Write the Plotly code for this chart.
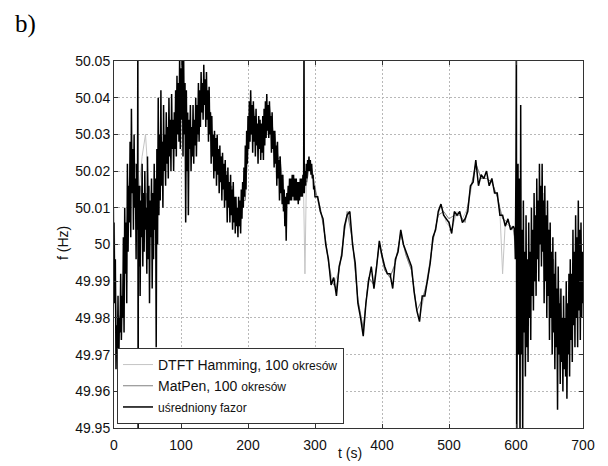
import plotly.graph_objects as go

# ---------------- axis ticks ----------------
x_tickvals = [0, 100, 200, 300, 400, 500, 600, 700]
y_tickvals = [49.95, 49.96, 49.97, 49.98, 49.99, 50.00, 50.01, 50.02, 50.03, 50.04, 50.05]
y_ticktext = ["49.95", "49.96", "49.97", "49.98", "49.99", "50", "50.01", "50.02", "50.03", "50.04", "50.05"]

# ---------------- series names ----------------
name_dtft = "DTFT Hamming, 100 <span style='font-size:12px'>okresów</span>"
name_matpen = "MatPen, 100 <span style='font-size:12px'>okresów</span>"
name_fazor = "<span style='font-size:12px'>uśredniony fazor</span>"

# ---------------- uśredniony fazor (black) ----------------
fazor_t_a = [0, 1, 2, 3, 4, 5, 6, 7, 8, 9, 10, 11, 12, 13, 14, 15, 16, 17, 18, 19,
             20, 21, 22, 23, 24, 25, 26, 27, 28, 29, 30, 31, 32, 33, 34, 35, 35.6, 36, 36.4, 37,
             38, 39, 40, 41, 42, 43, 44, 45, 46, 47, 48, 49, 50, 51, 52, 53, 54, 55, 56, 57,
             58, 59, 60, 61, 62, 63, 64, 65, 66, 67, 68, 69, 70, 71, 72, 73, 74, 75, 76, 77,
             78, 79, 80, 81, 82, 83, 84, 85, 86, 87, 88, 89, 90, 91, 92, 93, 94, 95, 96, 97,
             98, 99, 100, 101, 102, 103, 104, 105, 106, 107, 108, 109, 110, 111, 112, 113, 114, 115, 116, 117,
             118, 119, 120, 121, 122, 123, 124, 125, 126, 127, 128, 129, 130, 131, 132, 133, 134, 135, 136, 137,
             138, 139, 140, 141, 142, 143, 144, 145, 146, 147, 148, 149, 150]
fazor_f_a = [50.006, 49.984, 49.996, 49.966, 49.978, 49.970, 49.986, 49.964, 49.980, 49.976,
             49.992, 49.974, 49.986, 49.980, 50.002, 49.976, 50.010, 49.992, 50.006, 49.984,
             50.022, 49.998, 50.016, 50.006, 50.028, 50.002, 50.037, 50.014, 50.026, 50.004,
             50.030, 50.010, 50.018, 49.996, 50.022, 50.004, 50.060, 49.940, 50.014, 49.994,
             50.016, 49.986, 50.012, 50.002, 50.022, 49.994, 50.014, 49.998, 50.020, 50.004,
             50.010, 49.992, 50.024, 49.996, 50.016, 49.984, 50.012, 50.002, 50.018, 49.988,
             50.014, 49.996, 50.022, 50.004, 50.018, 49.972, 50.026, 50.000, 50.040, 50.008,
             50.030, 50.012, 50.042, 50.016, 50.028, 50.010, 50.038, 50.020, 50.030, 50.016,
             50.036, 50.022, 50.032, 50.018, 50.040, 50.024, 50.034, 50.020, 50.041, 50.026,
             50.034, 50.020, 50.036, 50.026, 50.042, 50.024, 50.046, 50.030, 50.044, 50.028,
             50.052, 50.026, 50.048, 50.034, 50.054, 50.024, 50.050, 50.030, 50.044, 50.006,
             50.042, 50.020, 50.036, 50.008, 50.034, 50.026, 50.038, 50.020, 50.032, 50.024,
             50.038, 50.022, 50.034, 50.027, 50.040, 50.024, 50.038, 50.030, 50.044, 50.028,
             50.042, 50.032, 50.047, 50.036, 50.044, 50.034, 50.049, 50.038, 50.045, 50.032,
             50.047, 50.034, 50.042, 50.028, 50.043, 50.030, 50.036, 50.022, 50.035, 50.024,
             50.030, 50.018, 50.031]

fazor_t_b = [151, 152, 153, 154, 155, 156, 157, 158, 159, 160, 161, 162, 163, 164, 165, 166, 167, 168, 169, 170,
             171, 172, 173, 174, 175, 176, 177, 178, 179, 180, 181, 182, 183, 184, 185, 186, 187, 188, 189, 190,
             191, 192, 193, 194, 195, 196, 197, 198, 199, 200, 201, 202, 203, 204, 205, 206, 207, 208, 209, 210,
             211, 212, 213, 214, 215, 216, 217, 218, 219, 220, 221, 222, 223, 224, 225, 226, 227, 228, 229, 230,
             231, 232, 233, 234, 235, 236, 237, 238, 239, 240, 241, 242, 243, 244, 245, 246, 247, 248, 249, 250,
             251, 252, 253, 254, 255, 256, 257, 258, 259, 260, 261, 262, 263, 264, 265, 266, 267, 268, 269, 270,
             271, 272, 273, 274, 275, 276, 277, 278, 279, 280, 281, 282, 283, 283.6, 284, 285, 286, 287, 288, 289,
             290, 291, 292, 293, 294, 295, 296, 297, 298, 299, 300]
fazor_f_b = [50.020, 50.029, 50.016, 50.030, 50.019, 50.026, 50.014, 50.027, 50.017, 50.024,
             50.012, 50.025, 50.015, 50.022, 50.010, 50.023, 50.012, 50.019, 50.006, 50.021,
             50.010, 50.017, 50.006, 50.019, 50.008, 50.015, 50.004, 50.017, 50.006, 50.013,
             50.003, 50.013, 50.005, 50.010, 50.002, 50.013, 50.005, 50.012, 50.003, 50.015,
             50.007, 50.017, 50.010, 50.021, 50.013, 50.027, 50.015, 50.031, 50.022, 50.035,
             50.026, 50.039, 50.028, 50.042, 50.030, 50.038, 50.025, 50.039, 50.028, 50.035,
             50.024, 50.037, 50.027, 50.033, 50.022, 50.035, 50.026, 50.034, 50.023, 50.033,
             50.025, 50.035, 50.023, 50.037, 50.027, 50.039, 50.029, 50.041, 50.031, 50.038,
             50.029, 50.039, 50.030, 50.035, 50.025, 50.036, 50.026, 50.031, 50.021, 50.031,
             50.022, 50.027, 50.016, 50.028, 50.018, 50.023, 50.012, 50.024, 50.014, 50.019,
             50.011, 50.019, 50.009, 50.015, 50.005, 50.013, 50.001, 50.014, 50.011, 50.016,
             50.011, 50.018, 50.012, 50.018, 50.012, 50.019, 50.013, 50.019, 50.012, 50.018,
             50.012, 50.018, 50.012, 50.017, 50.011, 50.017, 50.012, 50.018, 50.013, 50.018,
             50.013, 50.019, 50.014, 50.060, 50.014, 50.020, 50.016, 50.022, 50.018, 50.023,
             50.020, 50.024, 50.020, 50.023, 50.019, 50.022, 50.018, 50.019, 50.015, 50.016,
             50.013]

fazor_t_c = [304, 308, 312, 316, 320, 324, 328, 332, 336, 340, 344, 348, 352, 356, 360, 364, 368, 372, 376, 380,
             384, 388, 392, 396, 400, 404, 408, 412, 416, 420, 424, 428, 432, 436, 440, 444, 448, 452, 456, 460,
             464, 468, 472, 476, 480, 484, 488, 492, 496, 500, 504, 508, 512, 516, 520, 524, 528, 532, 536, 540,
             544, 548, 552, 556, 560, 564, 568, 572, 576, 580, 584, 588, 592, 596]
fazor_f_c = [50.013, 50.009, 50.007, 50.000, 49.996, 49.989, 49.991, 49.986, 49.994, 49.997,
             50.005, 50.008, 50.009, 50.000, 49.995, 49.984, 49.980, 49.975, 49.984, 49.990,
             49.994, 49.988, 49.994, 50.001, 49.997, 49.994, 49.992, 49.992, 49.988, 49.996,
             49.998, 50.004, 50.000, 49.998, 49.996, 49.994, 49.987, 49.982, 49.979, 49.986,
             49.986, 49.991, 49.995, 50.002, 50.004, 50.009, 50.011, 50.008, 50.007, 50.006,
             50.003, 50.009, 50.008, 50.009, 50.006, 50.007, 50.009, 50.016, 50.017, 50.023,
             50.016, 50.019, 50.018, 50.020, 50.016, 50.018, 50.014, 50.014, 50.008, 50.008,
             50.005, 50.007, 50.004, 50.005]

fazor_t_d = [598, 599, 600, 600.6, 601, 602, 603, 604, 605, 606, 607, 608, 609, 610, 611, 612, 613, 614, 615, 616,
             617, 618, 619, 620, 621, 622, 623, 624, 625, 626, 627, 628, 629, 630, 631, 632, 633, 634, 635, 636,
             637, 638, 639, 640, 641, 642, 643, 644, 645, 646, 647, 648, 649, 650, 651, 652, 653, 654, 655, 656,
             657, 658, 659, 660, 661, 662, 663, 664, 665, 666, 667, 668, 669, 670, 671, 672, 673, 674, 675, 676,
             677, 678, 679, 680, 681, 682, 683, 684, 685, 686, 687, 688, 689, 690, 691, 692, 693, 694, 695, 696,
             697, 698, 699, 700]
fazor_f_d = [50.004, 49.996, 50.024, 50.060, 49.940, 49.975, 50.022, 49.970, 50.018, 49.945,
             50.038, 49.970, 50.004, 49.948, 50.012, 49.976, 49.998, 49.964, 50.008, 49.972,
             49.996, 49.968, 50.006, 49.980, 49.998, 49.974, 50.010, 49.986, 50.004, 49.982,
             50.014, 49.990, 50.008, 49.986, 50.018, 49.996, 50.012, 49.990, 50.022, 50.000,
             50.016, 49.994, 50.022, 49.998, 50.012, 49.984, 50.016, 49.990, 50.008, 49.980,
             50.012, 49.986, 50.004, 49.974, 50.006, 49.980, 49.998, 49.970, 50.002, 49.976,
             49.992, 49.966, 49.998, 49.972, 49.988, 49.955, 49.994, 49.970, 49.984, 49.962,
             49.988, 49.968, 49.980, 49.960, 49.986, 49.966, 49.980, 49.964, 49.990, 49.958,
             49.984, 49.970, 49.992, 49.964, 49.996, 49.974, 49.992, 49.968, 50.004, 49.978,
             49.998, 49.972, 50.008, 49.980, 50.002, 49.972, 50.012, 49.982, 50.004, 49.974,
             50.006, 49.980, 49.998, 49.984]

# ---------------- MatPen (grey) ----------------
matpen_t = [0, 4, 8, 12, 16, 20, 24, 28, 32, 36, 40, 44, 48, 52, 56, 60, 64, 68, 72, 76,
            80, 84, 88, 92, 96, 100, 104, 108, 112, 116, 120, 124, 128, 132, 136, 140, 144, 148, 152, 156,
            160, 164, 168, 172, 176, 180, 184, 188, 192, 196, 200, 204, 208, 212, 216, 220, 224, 228, 232, 236,
            240, 244, 248, 252, 256, 260, 264, 268, 272, 276, 280, 284, 288, 292, 296, 300,
            308, 316, 324, 332, 340, 348, 356, 364, 372, 380, 388, 396, 404, 412, 420, 428, 436, 444, 452, 460,
            468, 476, 484, 492, 500, 508, 516, 524, 532, 540, 548, 556, 564, 572, 580, 588, 596,
            600, 604, 608, 612, 616, 620, 624, 628, 632, 636, 640, 644, 648, 652, 656, 660, 664, 668, 672, 676,
            680, 684, 688, 692, 696, 700]
matpen_f = [49.998, 49.970, 49.980, 49.982, 50.002, 50.006, 50.022, 50.016, 50.022, 50.008,
            50.016, 50.006, 50.014, 50.006, 50.012, 50.004, 50.016, 50.016, 50.028, 50.022,
            50.032, 50.026, 50.032, 50.028, 50.040, 50.036, 50.044, 50.030, 50.032, 50.024,
            50.032, 50.028, 50.038, 50.036, 50.044, 50.036, 50.036, 50.024, 50.027, 50.020,
            50.024, 50.017, 50.020, 50.013, 50.016, 50.009, 50.010, 50.005, 50.012, 50.012,
            50.028, 50.031, 50.038, 50.030, 50.033, 50.028, 50.031, 50.030, 50.038, 50.031,
            50.030, 50.023, 50.024, 50.015, 50.010, 50.014, 50.015, 50.018, 50.014, 50.017,
            50.014, 50.018, 50.017, 50.023, 50.020, 50.015,
            50.010, 50.001, 49.990, 49.988, 49.998, 50.009, 50.001, 49.985, 49.977, 49.991,
            49.989, 50.000, 49.993, 49.991, 49.995, 50.003, 49.997, 49.993, 49.982, 49.985,
            49.990, 50.001, 50.008, 50.009, 50.007, 50.008, 50.008, 50.006, 50.015, 50.022,
            50.018, 50.018, 50.017, 50.013, 50.007, 50.006, 50.004,
            50.000, 49.984, 49.996, 49.978, 49.992, 49.984, 50.000, 49.994, 50.010, 50.004,
            50.014, 49.996, 50.004, 49.990, 49.996, 49.980, 49.988, 49.972, 49.980, 49.966,
            49.985, 49.978, 49.994, 49.982, 49.996, 49.984]

# ---------------- DTFT Hamming (light grey) ----------------
dtft_t = [0, 3, 6, 12, 18, 24, 30, 36, 42, 47, 52, 58, 64, 70, 76, 82, 88, 94, 100, 106,
          112, 118, 124, 130, 136, 142, 148, 154, 160, 166, 172, 178, 184, 190, 196, 202, 208, 214, 220, 226,
          232, 238, 244, 250, 256, 262, 268, 274, 280, 283, 285, 287, 292, 298, 304, 312, 320, 328, 336, 344,
          350, 356, 364, 372, 380, 388, 396, 404, 412, 420, 428, 436, 444, 452, 456, 464, 472, 480, 488, 496,
          504, 512, 520, 528, 536, 540, 548, 556, 564, 572, 576, 580, 584, 590, 596, 602, 608, 614, 620, 626,
          632, 638, 644, 650, 656, 662, 668, 674, 680, 686, 692, 698, 700]
dtft_f = [50.010, 49.985, 49.972, 49.984, 50.004, 50.016, 50.018, 50.012, 50.024, 50.030,
          50.016, 50.010, 50.014, 50.022, 50.026, 50.028, 50.030, 50.034, 50.038, 50.036,
          50.030, 50.029, 50.031, 50.037, 50.041, 50.038, 50.027, 50.024, 50.022, 50.019,
          50.016, 50.013, 50.008, 50.009, 50.015, 50.030, 50.035, 50.031, 50.030, 50.031,
          50.036, 50.031, 50.025, 50.020, 50.012, 50.015, 50.017, 50.015, 50.016, 50.014,
          49.992, 50.016, 50.022, 50.018, 50.012, 50.006, 49.995, 49.989, 49.993, 50.004,
          50.009, 50.001, 49.985, 49.977, 49.991, 49.989, 50.000, 49.993, 49.991, 49.995,
          50.003, 49.997, 49.993, 49.982, 49.980, 49.987, 49.996, 50.005, 50.011, 50.006,
          50.004, 50.009, 50.007, 50.010, 50.018, 50.022, 50.018, 50.018, 50.017, 50.013,
          50.009, 49.992, 50.006, 50.005, 50.004, 49.994, 49.990, 49.986, 49.990, 49.998,
          50.006, 50.010, 50.002, 49.996, 49.990, 49.984, 49.978, 49.975, 49.980, 49.986,
          49.988, 49.990, 49.988]

fazor_t = fazor_t_a + fazor_t_b + fazor_t_c + fazor_t_d
fazor_f = fazor_f_a + fazor_f_b + fazor_f_c + fazor_f_d

FONT = "Liberation Sans, Arial, sans-serif"

fig = go.Figure()
fig.add_trace(go.Scatter(x=dtft_t, y=dtft_f, mode="lines", name=name_dtft,
                         line=dict(color="#c4c4c4", width=1)))
fig.add_trace(go.Scatter(x=matpen_t, y=matpen_f, mode="lines", name=name_matpen,
                         line=dict(color="#808080", width=1)))
fig.add_trace(go.Scatter(x=fazor_t, y=fazor_f, mode="lines", name=name_fazor,
                         line=dict(color="#000000", width=1.5)))

axis_common = dict(
    showline=True, mirror="allticks", linecolor="#333333", linewidth=1,
    ticks="inside", ticklen=4, tickcolor="#333333", tickwidth=1,
    showgrid=True, gridcolor="#b8b8b8", gridwidth=1, griddash="2px,2px",
    zeroline=False, tickfont=dict(family=FONT, size=14, color="#111111"),
    automargin=False,
)

# The page body adds an 8 px margin, so the figure is 8 px smaller on each
# dimension and its margins are shifted to keep the plot where the reference has it.
fig.update_layout(
    width=600, height=458,
    margin=dict(l=106, r=25, t=53, b=38),
    paper_bgcolor="white", plot_bgcolor="white",
    font=dict(family=FONT, size=14, color="#111111"),
    xaxis=dict(range=[0, 700], tickvals=x_tickvals, ticklabelstandoff=4, **axis_common),
    yaxis=dict(range=[49.95, 50.05], tickvals=y_tickvals, ticktext=y_ticktext, **axis_common),
    legend=dict(x=0.0064, y=0.011, xanchor="left", yanchor="bottom",
                bgcolor="white", bordercolor="#333333", borderwidth=1,
                font=dict(family=FONT, size=14, color="#111111"),
                itemwidth=30, tracegroupgap=0),
    annotations=[
        dict(text="b)", xref="paper", yref="paper", x=-0.2154, y=1.144,
             xanchor="left", yanchor="top", showarrow=False,
             font=dict(family="Liberation Serif, Times New Roman, serif", size=25, color="#000000")),
        dict(text="t (s)", xref="paper", yref="paper", x=0.503, y=-0.0954,
             xanchor="center", yanchor="bottom", showarrow=False,
             font=dict(family=FONT, size=14, color="#111111")),
        dict(text="f (Hz)", xref="paper", yref="paper", x=-0.1087, y=0.504,
             xanchor="center", yanchor="middle", showarrow=False, textangle=-90,
             font=dict(family=FONT, size=14, color="#111111")),
    ],
    showlegend=True,
)

fig.write_html("out.html")
